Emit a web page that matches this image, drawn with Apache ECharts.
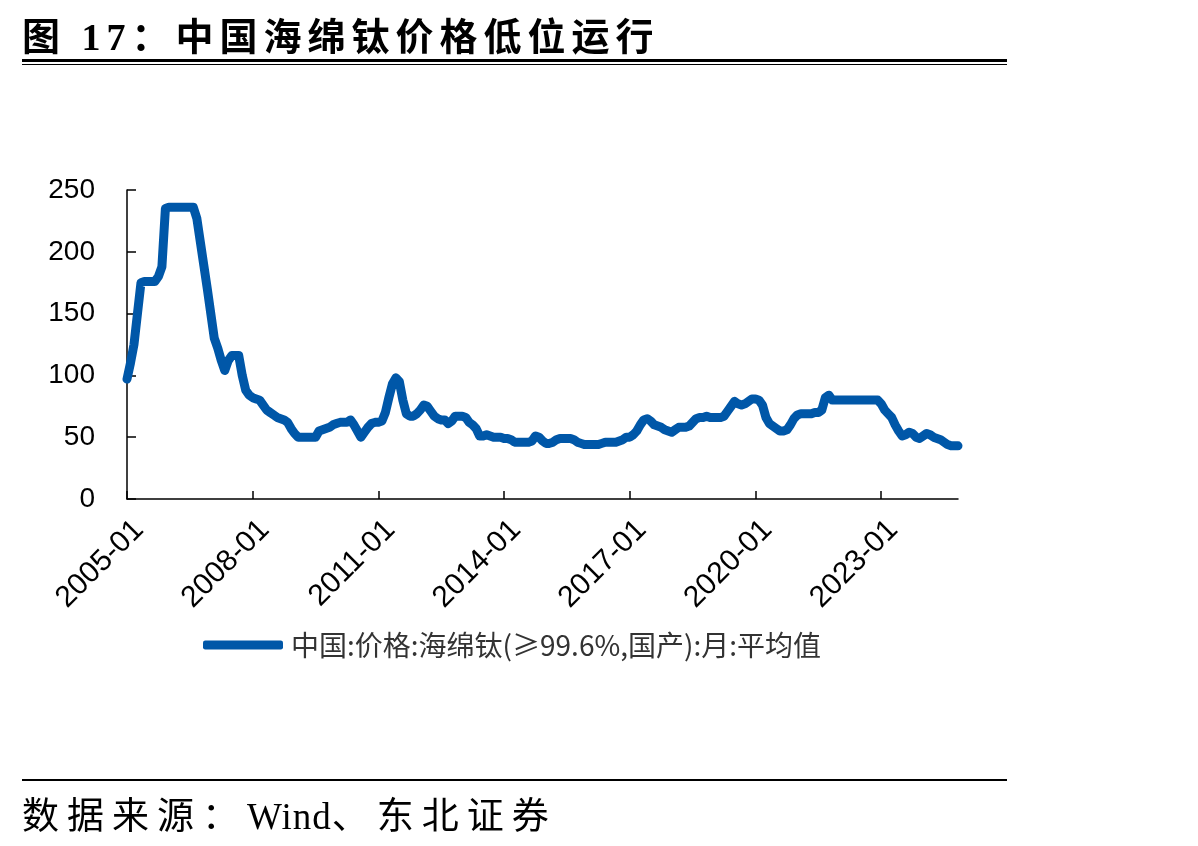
<!DOCTYPE html>
<html>
<head>
<meta charset="utf-8">
<script src="https://cdn.jsdelivr.net/npm/echarts@6/dist/echarts.min.js"></script>
<style>
  html, body { margin: 0; padding: 0; background: #fff; }
  #wrap { position: relative; width: 1198px; height: 846px; overflow: hidden; }
  #chart { position: absolute; left: 0; top: 0; width: 1198px; height: 846px; }
  .title { position: absolute; left: 22px; top: 6px; font: bold 38px "Liberation Serif", "Noto Sans CJK SC", serif; letter-spacing: 6px; color: #000; white-space: nowrap; }
  .source { position: absolute; left: 22px; top: 786px; font: 37px "Liberation Serif", "Noto Sans CJK SC", serif; letter-spacing: 8px; color: #000; white-space: nowrap; }
  .source span { letter-spacing: 1px; }
  .rule { position: absolute; left: 22px; width: 985px; background: #000; }
</style>
</head>
<body>
<div id="wrap">
  <div id="chart"></div>
  <div class="title">图 17：中国海绵钛价格低位运行</div>
  <div class="rule" style="top:59px;height:3px"></div>
  <div class="rule" style="top:64px;height:1px"></div>
  <div class="rule" style="top:779px;height:2px"></div>
  <div class="source">数据来源：<span>Wind</span>、东北证券</div>
</div>
<script>
// 月度数据：2005-01 ~ 2024-11
var startYear = 2005
var monthCount = 239
var seriesName = '中国:价格:海绵钛(≥99.6%,国产):月:平均值'
var yTicks = [0, 50, 100, 150, 200, 250]
var labelEvery = 36 // 每三年一个刻度

var spongeTiPrice = [
  97, 110, 125, 150, 175, 176, 176, 176, 176, 180, 188, 235,   // 2005
  236, 236, 236, 236, 236, 236, 236, 236, 227, 208, 189, 170,  // 2006
  150, 130, 122, 112, 104, 112, 116, 116, 116, 100, 88, 84,    // 2007
  82, 81, 80, 76, 72, 70, 68, 66, 65, 64, 62, 57,              // 2008
  53, 50, 50, 50, 50, 50, 50, 55, 56, 57, 58, 60,              // 2009
  61, 62, 62, 62, 64, 60, 55, 50, 54, 58, 61, 62,              // 2010
  62, 63, 70, 82, 93, 98, 95, 80, 69, 67, 67, 69,              // 2011
  72, 76, 75, 71, 67, 65, 64, 64, 61, 63, 67, 67,              // 2012
  67, 66, 62, 60, 57, 51, 51, 52, 51, 50, 50, 50,              // 2013
  49, 49, 48, 46, 46, 46, 46, 46, 47, 51, 50, 47,              // 2014
  45, 45, 46, 48, 49, 49, 49, 49, 48, 46, 45, 44,              // 2015
  44, 44, 44, 44, 45, 46, 46, 46, 46, 47, 48, 50,              // 2016
  50, 52, 55, 60, 64, 65, 63, 60, 59, 58, 56, 55,              // 2017
  54, 56, 58, 58, 58, 59, 62, 65, 66, 66, 67, 66,              // 2018
  66, 66, 66, 67, 71, 75, 79, 77, 76, 77, 79, 81,              // 2019
  81, 80, 76, 66, 61, 59, 57, 55, 55, 56, 60, 65,              // 2020
  68, 69, 69, 69, 69, 70, 70, 72, 82, 84, 80, 80,              // 2021
  80, 80, 80, 80, 80, 80, 80, 80, 80, 80, 80, 80,              // 2022
  77, 72, 69, 66, 60, 55, 51, 52, 54, 53, 50, 49,              // 2023
  51, 53, 52, 50, 49, 48, 46, 44, 43, 43, 43                   // 2024
]

var months = []
for (var i = 0; i < monthCount; i++) {
  var y = startYear + Math.floor(i / 12)
  var m = i % 12 + 1
  months.push(y + '-' + (m < 10 ? '0' + m : m))
}

var chart = echarts.init(document.getElementById('chart'))
chart.setOption({
  animation: false,
  grid: { left: 127, right: 240, top: 190, bottom: 347 },
  legend: {
    left: 198,
    top: 626,
    icon: 'roundRect',
    itemWidth: 80,
    itemHeight: 9,
    textStyle: { fontSize: 28, color: '#333', fontFamily: 'Noto Sans CJK SC', padding: [0, 0, 0, 3] },
    data: [seriesName]
  },
  xAxis: {
    type: 'category',
    data: months,
    boundaryGap: false,
    axisLine: { lineStyle: { color: '#000', width: 1.5 } },
    axisTick: {
      inside: true, length: 8,
      interval: function (idx) { return idx % labelEvery === 0 },
      lineStyle: { color: '#000', width: 1.5 }
    },
    axisLabel: {
      interval: function (idx) { return idx % labelEvery === 0 },
      rotate: 45,
      margin: 14,
      verticalAlign: 'top',
      lineHeight: 34,
      fontSize: 30,
      color: '#000',
      fontFamily: 'Liberation Sans'
    },
    splitLine: { show: false }
  },
  yAxis: {
    type: 'value',
    min: yTicks[0],
    max: yTicks[yTicks.length - 1],
    interval: 50,
    axisLine: { show: true, lineStyle: { color: '#000', width: 1.5 } },
    axisTick: { show: true, inside: true, length: 9, lineStyle: { color: '#000', width: 1.5 } },
    axisLabel: { margin: 32, fontSize: 28, color: '#000', fontFamily: 'Liberation Sans' },
    splitLine: { show: false }
  },
  series: [{
    name: seriesName,
    type: 'line',
    data: spongeTiPrice,
    symbol: 'none',
    color: '#0057A8',
    lineStyle: { width: 9, color: '#0057A8', cap: 'round', join: 'round' }
  }]
})
</script>
</body>
</html>
